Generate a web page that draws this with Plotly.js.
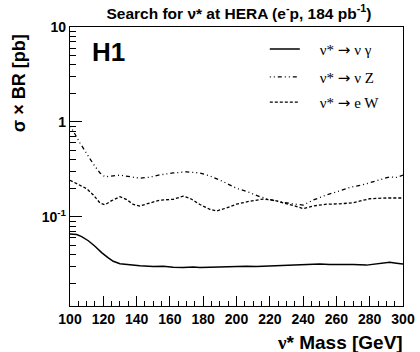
<!DOCTYPE html>
<html><head><meta charset="utf-8">
<script src="https://cdn.plot.ly/plotly-3.0.1.min.js"></script>
<style>html,body{margin:0;padding:0;background:#fff}#plot{width:420px;height:352px}</style>
</head><body><div id="plot"></div>
<script>
const massG = [100,104,107,111,115,119,123,126,130,136,142,150,156,162,168,174,178,184,192,200,206,212,220,228,236,242,250,256,264,270,278,286,292,296,300];
const sigG  = [0.066,0.065,0.062,0.056,0.049,0.042,0.037,0.034,0.032,0.031,0.0305,0.030,0.0302,0.0295,0.0293,0.0297,0.0292,0.0295,0.0298,0.0300,0.0302,0.0299,0.0303,0.0307,0.0308,0.0313,0.0318,0.0315,0.0318,0.0315,0.031,0.0322,0.0333,0.0325,0.0318];
const massZ = [100,102,106,110,114,118,121,126,130,136,142,148,154,162,170,178,184,192,200,208,214,220,226,234,240,246,254,262,268,276,282,288,292,296,300];
const sigZ  = [0.9,0.8,0.6,0.46,0.36,0.29,0.264,0.27,0.275,0.265,0.255,0.262,0.277,0.29,0.298,0.29,0.27,0.235,0.2,0.18,0.163,0.152,0.144,0.137,0.133,0.15,0.17,0.188,0.204,0.218,0.233,0.25,0.264,0.26,0.275];
const massW = [100,106,110,114,118,121,125,130,134,138,142,148,154,162,168,172,178,184,188,194,200,208,216,222,228,234,240,246,254,262,270,280,290,300];
const sigW  = [0.243,0.215,0.198,0.17,0.14,0.134,0.148,0.163,0.152,0.135,0.13,0.14,0.15,0.153,0.165,0.157,0.135,0.12,0.115,0.124,0.136,0.146,0.154,0.15,0.142,0.132,0.122,0.13,0.136,0.137,0.141,0.155,0.158,0.158];
const arrow = '<span style="font-family:DejaVu Sans">\u2192</span>';
const pad = '\u00a0\u00a0\u00a0\u00a0';
const names = [pad+"\u03bd* "+arrow+" \u03bd \u03b3", pad+"\u03bd* "+arrow+" \u03bd Z", pad+"\u03bd* "+arrow+" e W"];
const yTickVals = [0.1,1,10];
const yTickText = ["10<sup>-1</sup>","1","10"];
const yMinor = [0.02,0.03,0.04,0.05,0.06,0.07,0.08,0.09,0.2,0.3,0.4,0.5,0.6,0.7,0.8,0.9,2,3,4,5,6,7,8,9];

const serif = "Liberation Serif, DejaVu Serif, serif";
const sans = "Liberation Sans, Arial, sans-serif";
const traces = [
 {x:massG,y:sigG,name:names[0],mode:'lines',line:{color:'#000',width:1.5},legend:'legend'},
 {x:massZ,y:sigZ,name:names[1],mode:'lines',line:{color:'#000',width:1.3,dash:'1px,3px,1px,3px,4px,3px'},legend:'legend2'},
 {x:massW,y:sigW,name:names[2],mode:'lines',line:{color:'#000',width:1.3,dash:'3px,2px'},legend:'legend3'}
];
const legBase = {x:0.585,xanchor:'left',yanchor:'middle',bgcolor:'rgba(0,0,0,0)',font:{family:serif,size:15,color:'#000'}};
const layout = {
 width:420,height:352,
 margin:{l:70,r:17,t:27,b:46},
 paper_bgcolor:'#fff',plot_bgcolor:'#fff',
 showlegend:true,
 legend:Object.assign({},legBase,{y:0.92}),
 legend2:Object.assign({},legBase,{y:0.82}),
 legend3:Object.assign({},legBase,{y:0.73}),
 title:{text:'<b>Search for \u03bd* at HERA (e<sup>-</sup>p, 184 pb<sup>-1</sup>)</b>',font:{family:sans,size:15.5,color:'#000'},x:0.569,xanchor:'center',y:0.962,yanchor:'middle'},
 xaxis:{range:[100,300],showline:true,linecolor:'#000',linewidth:1.2,mirror:true,ticks:'inside',ticklen:10,tickwidth:1,tickcolor:'#000',
   tickvals:[100,120,140,160,180,200,220,240,260,280,300],
   tickfont:{family:sans,size:14,color:'#000',weight:'bold'},showgrid:false,zeroline:false,
   minor:{tickmode:'linear',tick0:100,dtick:5,ticks:'inside',ticklen:5,tickcolor:'#000',tickwidth:1,showgrid:false}},
 yaxis:{type:'log',range:[Math.log10(0.0115),1],showline:true,linecolor:'#000',linewidth:1.2,mirror:true,ticks:'inside',ticklen:12,tickwidth:1,tickcolor:'#000',
   tickvals:yTickVals,ticktext:yTickText,tickfont:{family:sans,size:14,color:'#000',weight:'bold'},showgrid:false,zeroline:false,
   minor:{tickmode:'array',tickvals:yMinor,ticks:'inside',ticklen:6,tickcolor:'#000',tickwidth:1,showgrid:false}},
 annotations:[
  {text:'<b>H1</b>',xref:'paper',yref:'paper',x:0.06,y:0.91,xanchor:'left',yanchor:'middle',showarrow:false,font:{family:sans,size:26,color:'#000'}},
  {text:'<b><span style="font-family:Liberation Serif">\u03bd</span>* Mass [GeV]</b>',xref:'paper',yref:'paper',x:1.005,y:-0.085,xanchor:'right',yanchor:'top',showarrow:false,font:{family:sans,size:19,color:'#000'}},
  {text:'<b>\u03c3 \u00d7 BR [pb]</b>',xref:'paper',yref:'paper',x:-0.155,y:0.80,xanchor:'center',yanchor:'middle',textangle:-90,showarrow:false,font:{family:sans,size:18,color:'#000'}}
 ]
};
Plotly.newPlot('plot',traces,layout,{displayModeBar:false,staticPlot:true});
</script></body></html>
